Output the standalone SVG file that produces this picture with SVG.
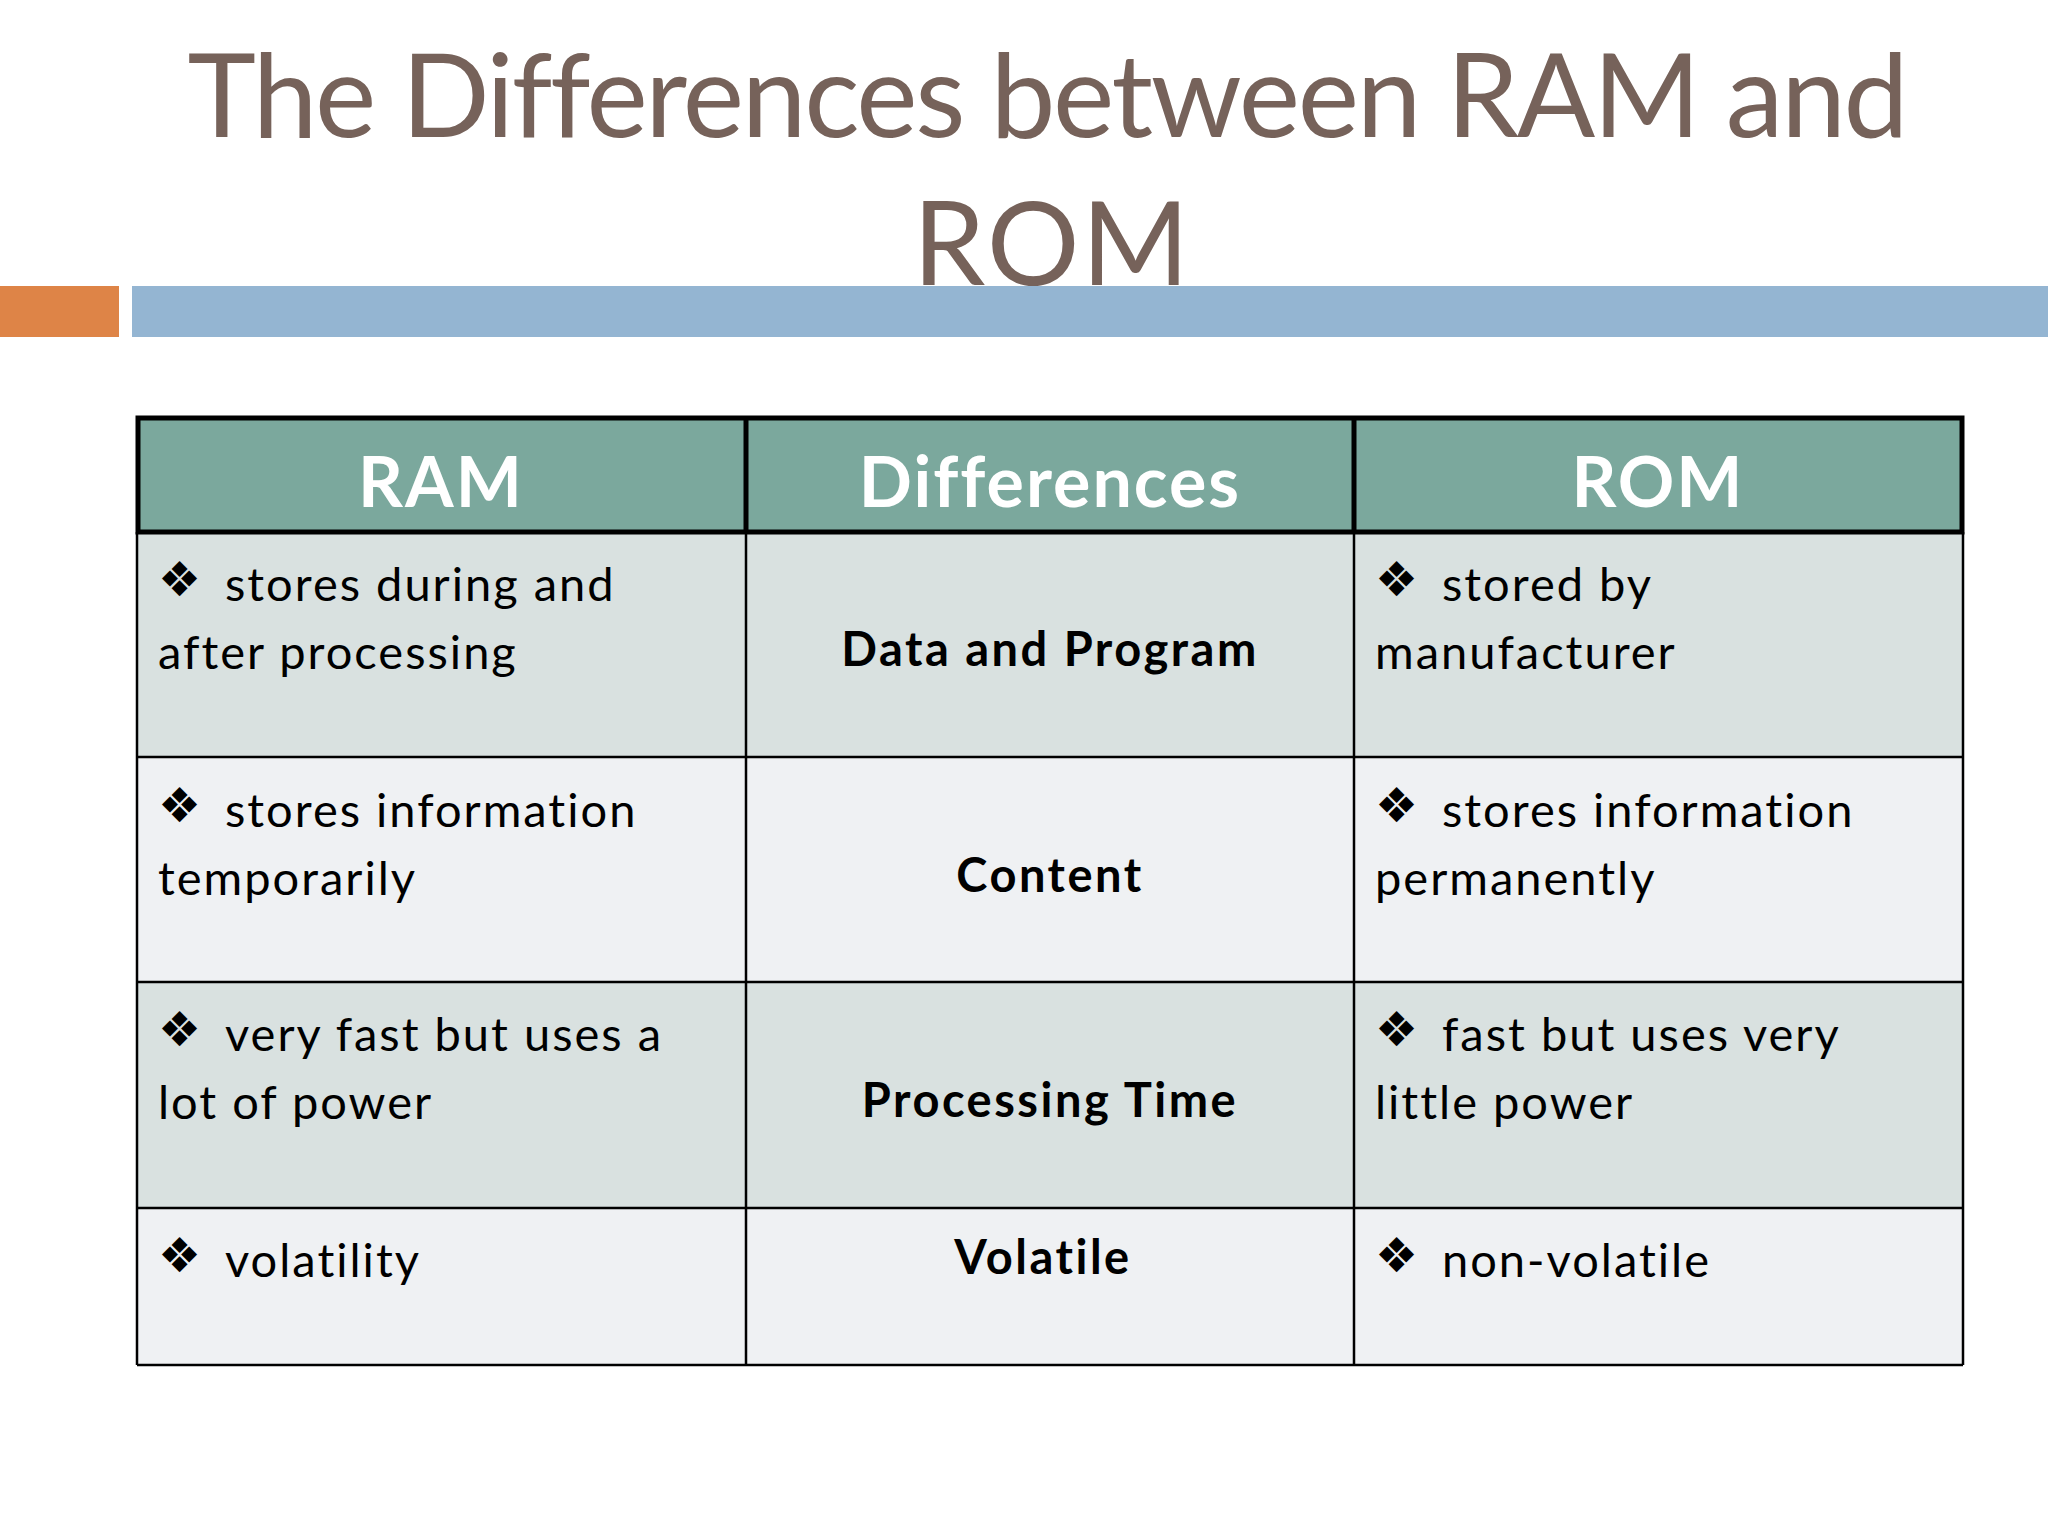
<svg xmlns="http://www.w3.org/2000/svg" width="2048" height="1536" viewBox="0 0 2048 1536">
<style>
.t{font-family:"Lato","Open Sans",sans-serif;fill:#76625A;font-size:116px;letter-spacing:2px}
.h{font-family:"Lato","Open Sans",sans-serif;font-weight:bold;fill:#fff;font-size:70px;text-anchor:middle;letter-spacing:2px}
.b{font-family:"Lato","Open Sans",sans-serif;fill:#000;font-size:47px;letter-spacing:2px}
.m{font-family:"Lato","Open Sans",sans-serif;font-weight:bold;fill:#000;font-size:47px;text-anchor:middle;letter-spacing:2.5px}
.d{font-family:"DejaVu Sans",sans-serif;font-size:48px;letter-spacing:0}
.g{stroke:#000;stroke-width:2.5;fill:none}
</style>
<rect width="2048" height="1536" fill="#fff"/>
<g id="title">
<text class="t" x="1049" y="137" text-anchor="middle" textLength="1723">The Differences between RAM and</text>
<text class="t" x="1052" y="285" text-anchor="middle">ROM</text>
</g>
<rect x="0" y="286" width="119" height="51" fill="#DE8447"/>
<rect x="132" y="286" width="1916" height="51" fill="#94B5D2"/>
<g id="table">
<rect x="137" y="418" width="1826" height="114" fill="#7BA89D"/>
<rect x="137" y="532" width="1826" height="225" fill="#D9E1E0"/>
<rect x="137" y="757" width="1826" height="225" fill="#EFF1F3"/>
<rect x="137" y="982" width="1826" height="226" fill="#D9E1E0"/>
<rect x="137" y="1208" width="1826" height="157" fill="#EFF1F3"/>
<path class="g" d="M137 757H1963M137 982H1963M137 1208H1963M137 1365H1963M137 532V1365M746 532V1365M1354 532V1365M1963 532V1365"/>
<rect x="138" y="418" width="1824" height="114" fill="none" stroke="#000" stroke-width="5"/>
<path d="M746 418V532M1354 418V532" stroke="#000" stroke-width="5"/>
<text class="h" x="441" y="507">RAM</text>
<text class="h" x="1050" y="507">Differences</text>
<text class="h" x="1658" y="507">ROM</text>
<g class="b">
<text x="158" y="596" class="d">❖</text><text x="225" y="601">stores during and</text>
<text x="158" y="669">after processing</text>
<text x="158" y="822" class="d">❖</text><text x="225" y="827">stores information</text>
<text x="158" y="895">temporarily</text>
<text x="158" y="1046" class="d">❖</text><text x="225" y="1051">very fast but uses a</text>
<text x="158" y="1119">lot of power</text>
<text x="158" y="1272" class="d">❖</text><text x="225" y="1277">volatility</text>
<text x="1375" y="596" class="d">❖</text><text x="1442" y="601">stored by</text>
<text x="1375" y="669">manufacturer</text>
<text x="1375" y="822" class="d">❖</text><text x="1442" y="827">stores information</text>
<text x="1375" y="895">permanently</text>
<text x="1375" y="1046" class="d">❖</text><text x="1442" y="1051">fast but uses very</text>
<text x="1375" y="1119">little power</text>
<text x="1375" y="1272" class="d">❖</text><text x="1442" y="1277">non-volatile</text>
</g>
<text class="m" x="1050" y="666">Data and Program</text>
<text class="m" x="1050" y="892">Content</text>
<text class="m" x="1050" y="1117">Processing Time</text>
<text class="m" x="1043" y="1274">Volatile</text>
</g>
</svg>
